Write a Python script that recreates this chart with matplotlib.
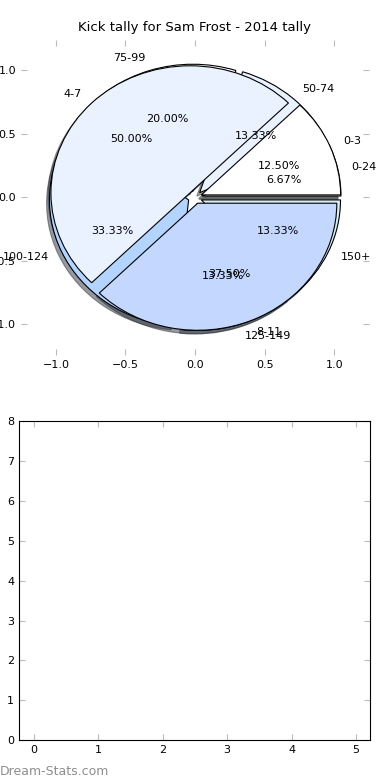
import matplotlib
matplotlib.use('Agg')
import matplotlib.pyplot as plt

# kicks per game ranges (inner pie)
game_labels = ['0-3', '4-7', '8-11']
game_counts = [1, 4, 3]
game_colors = ['white', '#eaf2ff', '#c4d8ff']

# season kick tally ranges
tally_labels = ['0-24', '50-74', '75-99', '100-124', '125-149', '150+']
tally_counts = [1, 2, 3, 5, 2, 2]
tally_colors = ['white', '#eaf2ff', 'white', '#b3d4ff', '#c4d8ff', '#d5eff5']

bar_xticks = [0, 1, 2, 3, 4, 5]
bar_yticks = [0, 1, 2, 3, 4, 5, 6, 7, 8]

plt.rcParams['font.size'] = 8
fig = plt.figure(figsize=(3.9, 7.8), dpi=100)

shadow = {'ox': -0.015, 'oy': -0.02, 'shade': 0.75}

ax = fig.add_axes([0.054, 0.545, 0.892, 0.404])
ax.pie(tally_counts, labels=tally_labels, colors=tally_colors, autopct='%1.2f%%',
       explode=[0.05] * len(tally_counts), shadow=shadow,
       wedgeprops={'edgecolor': 'black', 'linewidth': 0.8})
ax.pie(game_counts, labels=game_labels, colors=game_colors, autopct='%1.2f%%',
       explode=[0.05] * len(game_counts), shadow=shadow,
       wedgeprops={'edgecolor': 'black', 'linewidth': 0.8})
ax.set_aspect('auto')
ax.set_frame_on(False)
ax.set_xlim(-1.25, 1.25)
ax.set_ylim(-1.24, 1.24)
ax.set_xticks([-1.0, -0.5, 0.0, 0.5, 1.0])
ax.set_yticks([-1.0, -0.5, 0.0, 0.5, 1.0])
ax.tick_params(direction='in', length=4, color='#bbbbbb', top=True, right=True)
ax.set_title('Kick tally for Sam Frost - 2014 tally', fontsize=9.5)

ax2 = fig.add_axes([0.049, 0.051, 0.9, 0.409])
ax2.set_xlim(-0.23, 5.22)
ax2.set_ylim(0, 8)
ax2.set_xticks(bar_xticks)
ax2.set_yticks(bar_yticks)
ax2.tick_params(direction='in', length=4, color='#bbbbbb', top=True, right=True)

fig.text(0.0, 0.006, 'Dream-Stats.com', color='#8e8e8e', fontsize=9)

fig.savefig('out.png')
